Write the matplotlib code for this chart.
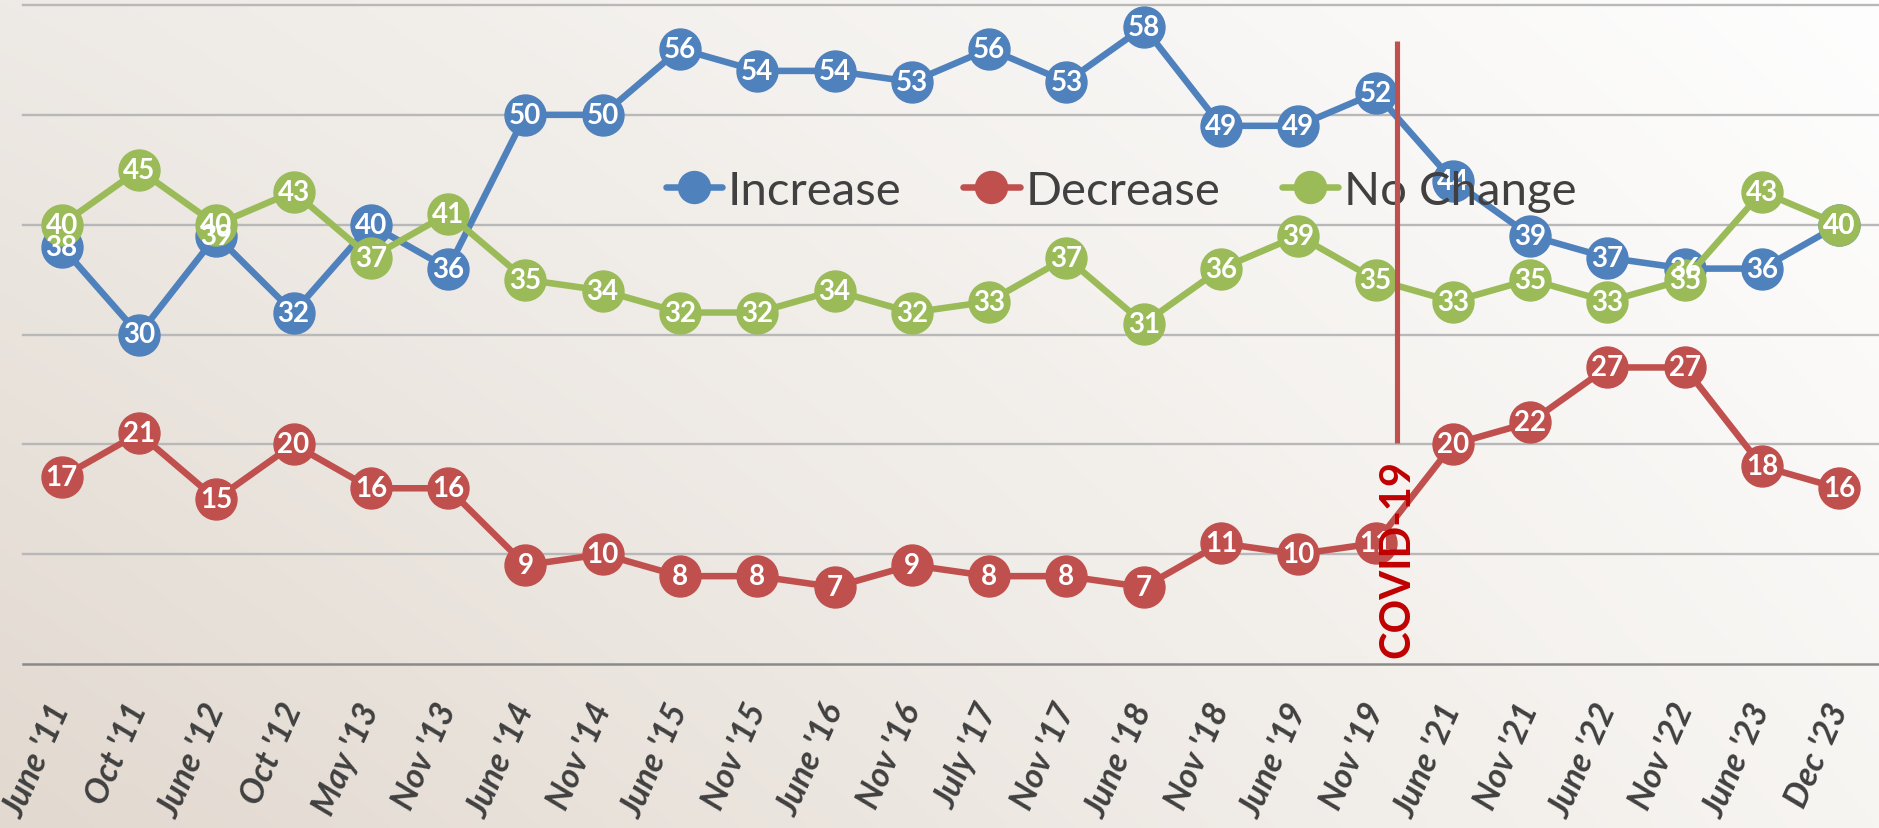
import numpy as np
import matplotlib
matplotlib.use("Agg")
import matplotlib.pyplot as plt

plt.rcParams['font.family'] = ['Lato', 'DejaVu Sans']

categories = ["June '11", "Oct '11", "June '12", "Oct '12", "May '13", "Nov '13",
              "June '14", "Nov '14", "June '15", "Nov '15", "June '16", "Nov '16",
              "July '17", "Nov '17", "June '18", "Nov '18", "June '19", "Nov '19",
              "June '21", "Nov '21", "June '22", "Nov '22", "June '23", "Dec '23"]
increase = [38, 30, 39, 32, 40, 36, 50, 50, 56, 54, 54, 53, 56, 53, 58, 49, 49, 52,
            44, 39, 37, 36, 36, 40]
decrease = [17, 21, 15, 20, 16, 16, 9, 10, 8, 8, 7, 9, 8, 8, 7, 11, 10, 11,
            20, 22, 27, 27, 18, 16]
no_change = [40, 45, 40, 43, 37, 41, 35, 34, 32, 32, 34, 32, 33, 37, 31, 36, 39, 35,
             33, 35, 33, 35, 43, 40]
series_names = ["Increase", "Decrease", "No Change"]
covid_label = "COVID-19"
covid_x = 17.28
covid_range = (20.1, 56.7)

colors = ["#4F81BD", "#C0504D", "#9BBB59"]

W, H = 1879, 829
fig = plt.figure(figsize=(W / 100, H / 100), dpi=100)

# background gradient
bg = fig.add_axes([0, 0, 1, 1], zorder=-10)
tl = np.array([238, 234, 229]) / 255
tr = np.array([254, 254, 254]) / 255
bl = np.array([226, 217, 208]) / 255
br = np.array([247, 245, 242]) / 255
u = np.linspace(0, 1, 200)[None, :, None]
v = np.linspace(1, 0, 100)[:, None, None]  # top row v=1
img = (1 - u) * v * tl + u * v * tr + (1 - u) * (1 - v) * bl + u * (1 - v) * br
bg.imshow(img, aspect='auto', extent=[0, 1, 0, 1], interpolation='bilinear')
bg.set_axis_off()

left = 23 / W
bottom = (H - 665) / H
ax = fig.add_axes([left, bottom, (1878 - 23) / W, (665 - 6) / H])
ax.set_facecolor('none')
x = np.arange(len(categories))
ax.set_xlim(-0.5, len(categories) - 0.5)
ax.set_ylim(0, 60)

for gy in range(10, 61, 10):
    ax.axhline(gy, color="#B8B8B8", lw=1.7, zorder=1, clip_on=False)
for s in ['top', 'right', 'left']:
    ax.spines[s].set_visible(False)
ax.spines['bottom'].set_color("#8A8A8A")
ax.spines['bottom'].set_linewidth(1.8)
ax.set_yticks([])

lines = []
for i, (name, vals, c) in enumerate(zip(series_names, [increase, decrease, no_change], colors)):
    ln, = ax.plot(x, vals, color=c, lw=4.7, marker='o', markersize=29.5,
                  markerfacecolor=c, markeredgecolor=c, zorder=3 + i, label=name,
                  solid_capstyle='round')
    lines.append(ln)
for vals in [increase, decrease, no_change]:
    for xi, vi in zip(x, vals):
        ax.text(xi, vi, str(vi), ha='center', va='center', color='white',
                fontsize=20, fontweight='bold', zorder=12)

ax.set_xticks(x)
ax.set_xticklabels(categories, rotation=66, ha='right', va='center',
                   rotation_mode='anchor', fontsize=24.5, fontweight='bold',
                   fontstyle='italic', color="#404040")
ax.tick_params(axis='x', length=0, pad=29)

leg = ax.legend(loc='center', bbox_to_anchor=(0.592, 0.718), ncol=3, frameon=False,
                fontsize=34, handlelength=1.2, handletextpad=0.12,
                columnspacing=1.3, borderpad=0)
for t in leg.get_texts():
    t.set_color("#404040")
for h in leg.legend_handles:
    h.set_markersize(23)
leg.set_zorder(15)

ax.plot([covid_x, covid_x], list(covid_range), color="#C0504D", lw=3.7, zorder=20,
        solid_capstyle='butt')
ax.text(covid_x, 9.65, covid_label, rotation=90, ha='center', va='center',
        color="#C00000", fontsize=30, fontweight='bold', zorder=21)

fig.savefig("out.png", dpi=100)
